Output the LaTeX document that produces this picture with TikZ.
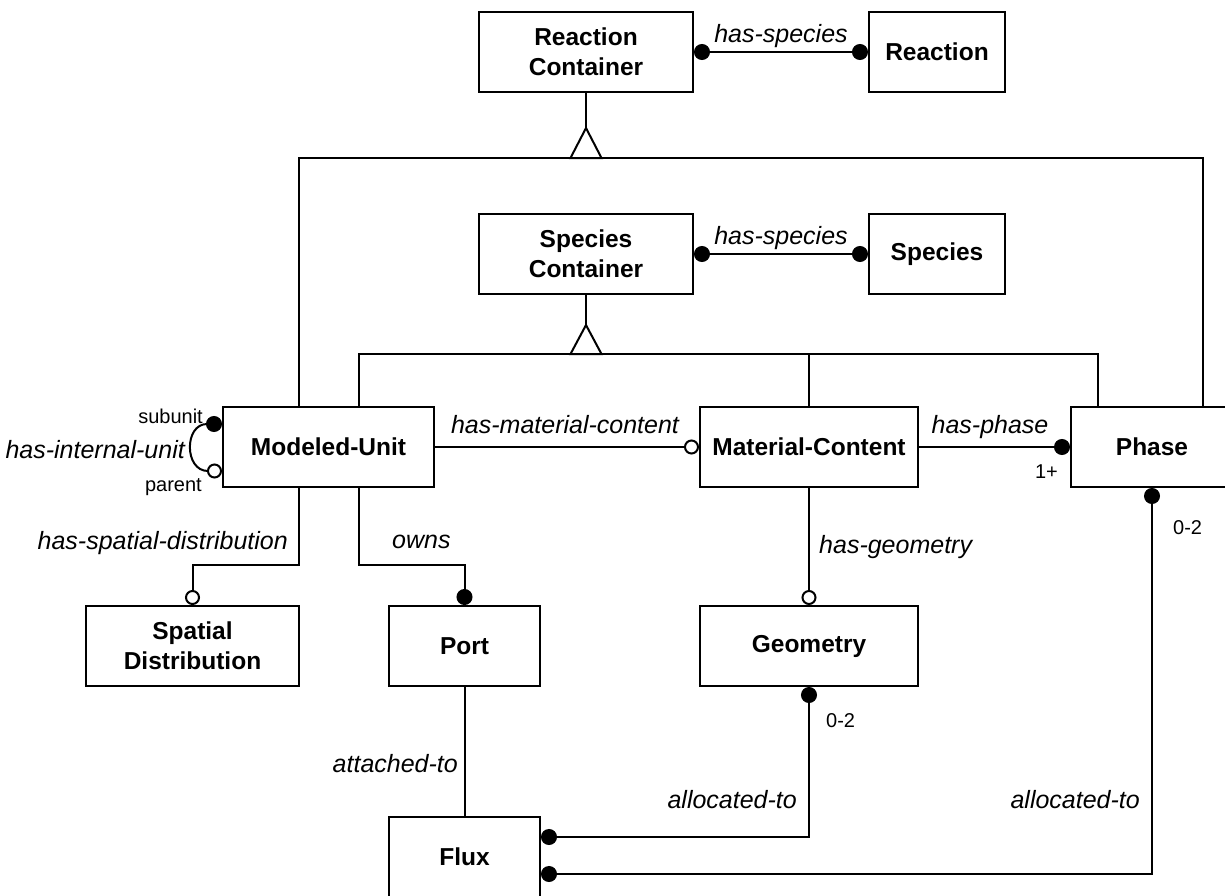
\documentclass[tikz,border=0pt]{standalone}
\usepackage{fontspec}
\setmainfont{Liberation Sans}
\usetikzlibrary{arrows.meta}
\tikzset{
  cls/.style={draw, line width=2pt, minimum height=80pt, inner sep=0pt,
    font=\fontsize{24.5}{30}\selectfont\bfseries, align=center},
  conn/.style={line width=2pt},
  rel/.style={inner sep=0pt, font=\fontsize{25}{30}\selectfont\itshape},
  card/.style={inner sep=0pt, font=\fontsize{20}{24}\selectfont},
  fdot/.tip={Circle[length=16pt]},
  odot/.tip={Circle[length=15pt, fill=white]}
}
\begin{document}
\begin{tikzpicture}[x=1pt,y=-1pt]
\useasboundingbox (0,0) rectangle (1225,895);
\fill[white] (0,0) rectangle (1225,895);
\clip (0,0) rectangle (1225,895);

% classes
\node[cls, minimum width=214pt] (rc) at (586,52) {Reaction\\Container};
\node[cls, minimum width=136pt] (re) at (937,52) {Reaction};
\node[cls, minimum width=214pt] (sc) at (586,254) {Species\\Container};
\node[cls, minimum width=136pt] (sp) at (937,254) {Species};
\node[cls, minimum width=211pt] (mu) at (328.5,447) {Modeled-Unit};
\node[cls, minimum width=218pt] (mc) at (809,447) {Material-Content};
\node[cls, minimum width=162pt] (ph) at (1152,447) {Phase};
\node[cls, minimum width=213pt] (sd) at (192.5,646) {Spatial\\Distribution};
\node[cls, minimum width=151pt] (po) at (464.5,646) {Port};
\node[cls, minimum width=218pt] (ge) at (809,646) {Geometry};
\node[cls, minimum width=151pt] (fl) at (464.5,857) {Flux};

% generalization: Reaction Container
\coordinate (ra) at (586,128);
\coordinate (b1L) at (299,158);
\coordinate (b1R) at (1203,158);
\draw[conn] (rc.south) -- (ra);
\draw[conn] (b1L |- mu.north) -- (b1L) -- (b1R) -- (b1R |- ph.north);
\draw[conn, fill=white] (ra) -- ++(-15.5,30) -- ++(31,0) -- cycle;

% generalization: Species Container
\coordinate (sa) at (586,325);
\coordinate (b2L) at (359,354);
\coordinate (b2R) at (1098,354);
\draw[conn] (sc.south) -- (sa);
\draw[conn] (b2L |- mu.north) -- (b2L) -- (b2R) -- (b2R |- ph.north);
\draw[conn] (mc.north) -- (mc.north |- b2L);
\draw[conn, fill=white] (sa) -- ++(-15.5,29) -- ++(31,0) -- cycle;

% associations
\draw[conn, fdot-fdot] (rc.east) -- (re.west);
\draw[conn, fdot-fdot] (sc.east) -- (sp.west);
\draw[conn, -odot] (mu.east) -- (mc.west);
\draw[conn, -fdot] (mc.east) -- (ph.west);
\draw[conn, fdot-odot] ([yshift=23pt]mu.west) .. controls +(-38,0) and +(-38,0) .. ([yshift=-24pt]mu.west);
\draw[conn, -odot] (b1L |- mu.south) -- ++(0,77) -| (sd.north);
\draw[conn, -fdot] (b2L |- mu.south) -- ++(0,77) -| (po.north);
\draw[conn, -odot] (mc.south) -- (ge.north);
\draw[conn] (po.south) -- (fl.north);
\draw[conn, fdot-fdot] (ge.south) |- ([yshift=20pt]fl.east);
\draw[conn, fdot-fdot] (ph.south) |- ([yshift=-17pt]fl.east);

% labels
\node[rel, anchor=base] (l1) at (781,42) {has-species};
\node[rel, anchor=base] (l2) at (781,244) {has-species};
\node[rel, anchor=base east] (l3) at (185,458) {has-internal-unit};
\node[card, anchor=base east] (l4) at (203,423) {subunit};
\node[card, anchor=base east] (l5) at (202,491) {parent};
\node[rel, anchor=base] (l6) at (565,433) {has-material-content};
\node[rel, anchor=base] (l7) at (990,433) {has-phase};
\node[card, anchor=base east] (l8) at (1058,478) {1+};
\node[rel, anchor=base east] (l9) at (288,549) {has-spatial-distribution};
\node[rel, anchor=base west] (l10) at (392,548) {owns};
\node[rel, anchor=base west] (l11) at (819,553) {has-geometry};
\node[card, anchor=base west] (l12) at (1173,534) {0-2};
\node[card, anchor=base west] (l13) at (826,727) {0-2};
\node[rel, anchor=base east] (l14) at (458,772) {attached-to};
\node[rel, anchor=base east] (l15) at (797,808) {allocated-to};
\node[rel, anchor=base east] (l16) at (1140,808) {allocated-to};
\end{tikzpicture}
\end{document}
